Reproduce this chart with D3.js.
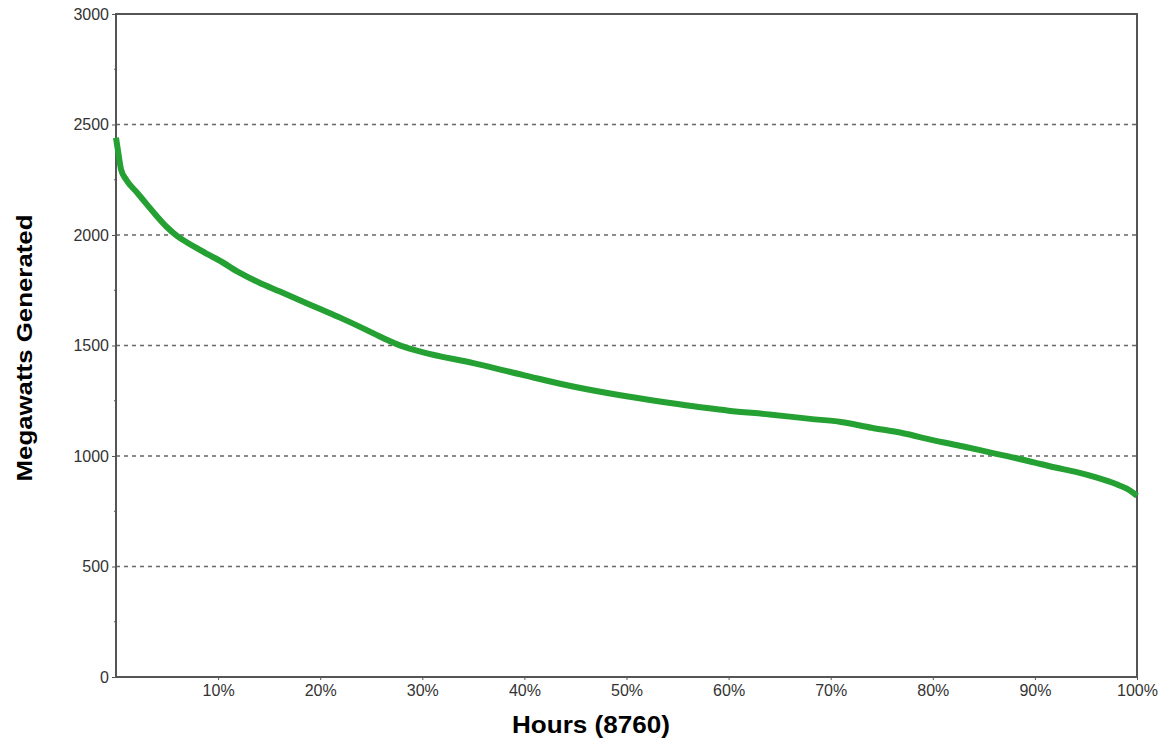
<!DOCTYPE html>
<html>
<head>
<meta charset="utf-8">
<script src="https://cdn.jsdelivr.net/npm/d3@7"></script>
<style>
  body { margin: 0; background: #fff; }
  text { font-family: Arial, "Liberation Sans", sans-serif; }
</style>
</head>
<body>
<div id="chart"></div>
<script>
// load duration curve (share of hours -> MW)
const hoursPct = [0, 0.2, 0.5, 1, 2, 3, 4, 5, 6, 7, 8, 9, 10, 12, 14, 16, 18, 20, 22, 24, 26, 28, 30, 35,
    40, 45, 50, 55, 60, 64, 68, 71, 74, 77, 80, 83, 86, 88, 90, 92, 94, 96, 98, 99, 100];
const megawatts = [2440, 2380, 2295, 2250, 2195, 2140, 2085, 2035, 1995, 1965, 1938, 1912, 1888, 1832, 1785, 1745, 1705, 1665, 1625, 1582, 1537, 1497, 1470, 1420,
    1365, 1312, 1270, 1235, 1205, 1188, 1168, 1154, 1128, 1104, 1072, 1043, 1012, 992, 970, 948, 928, 903, 872, 852, 820];

const yTicks = [0, 500, 1000, 1500, 2000, 2500, 3000];
const yMinor = [250, 750, 1250, 1750, 2250, 2750];
const xTicks = [10, 20, 30, 40, 50, 60, 70, 80, 90, 100];

const W = 1160, H = 750;
const margin = {top: 14, right: 23, bottom: 73, left: 116};
const width = W - margin.left - margin.right;
const height = H - margin.top - margin.bottom;

const svg = d3.select("#chart").append("svg")
    .attr("width", W)
    .attr("height", H);

const g = svg.append("g")
    .attr("transform", `translate(${margin.left},${margin.top})`);

const x = d3.scaleLinear().domain([0, 100]).range([0, width]);
const y = d3.scaleLinear().domain([0, 3000]).range([height, 0]);

// dashed grid lines
g.selectAll(".grid")
    .data(yTicks.filter(d => d > 0 && d < 3000))
    .join("line")
    .attr("x1", 0)
    .attr("x2", width)
    .attr("y1", d => y(d))
    .attr("y2", d => y(d))
    .attr("stroke", "#666")
    .attr("stroke-width", 1.5)
    .attr("stroke-dasharray", "4,4");

// y axis
const yAxis = g.append("g")
    .call(d3.axisLeft(y).tickValues(yTicks).tickFormat(d3.format("d")).tickSize(4).tickPadding(3));
yAxis.select(".domain").remove();
yAxis.selectAll("text").attr("font-size", 16).attr("fill", "#333");
yAxis.selectAll("line").attr("stroke", "#555");

g.selectAll(".minor")
    .data(yMinor)
    .join("line")
    .attr("x1", -2)
    .attr("x2", 0)
    .attr("y1", d => y(d))
    .attr("y2", d => y(d))
    .attr("stroke", "#555");

// x axis
const xAxis = g.append("g")
    .attr("transform", `translate(0,${height})`)
    .call(d3.axisBottom(x).tickValues(xTicks).tickFormat(d => d + "%").tickSize(3).tickPadding(5));
xAxis.select(".domain").remove();
xAxis.selectAll("text").attr("font-size", 16).attr("fill", "#333");
xAxis.selectAll("line").attr("stroke", "#555");

// frame
g.append("rect")
    .attr("width", width)
    .attr("height", height)
    .attr("fill", "none")
    .attr("stroke", "#555")
    .attr("stroke-width", 2);

// the curve
const line = d3.line()
    .x((d, i) => x(hoursPct[i]))
    .y(d => y(d))
    .curve(d3.curveMonotoneX);

g.append("path")
    .datum(megawatts)
    .attr("d", line)
    .attr("fill", "none")
    .attr("stroke", "#25a032")
    .attr("stroke-width", 6)
    .attr("stroke-linejoin", "round");

// axis titles
svg.append("text")
    .attr("x", 591)
    .attr("y", 733)
    .attr("text-anchor", "middle")
    .attr("font-size", 23)
    .attr("font-weight", "bold")
    .attr("textLength", 158)
    .attr("lengthAdjust", "spacingAndGlyphs")
    .text("Hours (8760)");

svg.append("text")
    .attr("transform", "translate(32,348) rotate(-90)")
    .attr("text-anchor", "middle")
    .attr("font-size", 22)
    .attr("font-weight", "bold")
    .attr("textLength", 267)
    .attr("lengthAdjust", "spacingAndGlyphs")
    .text("Megawatts Generated");
</script>
</body>
</html>
